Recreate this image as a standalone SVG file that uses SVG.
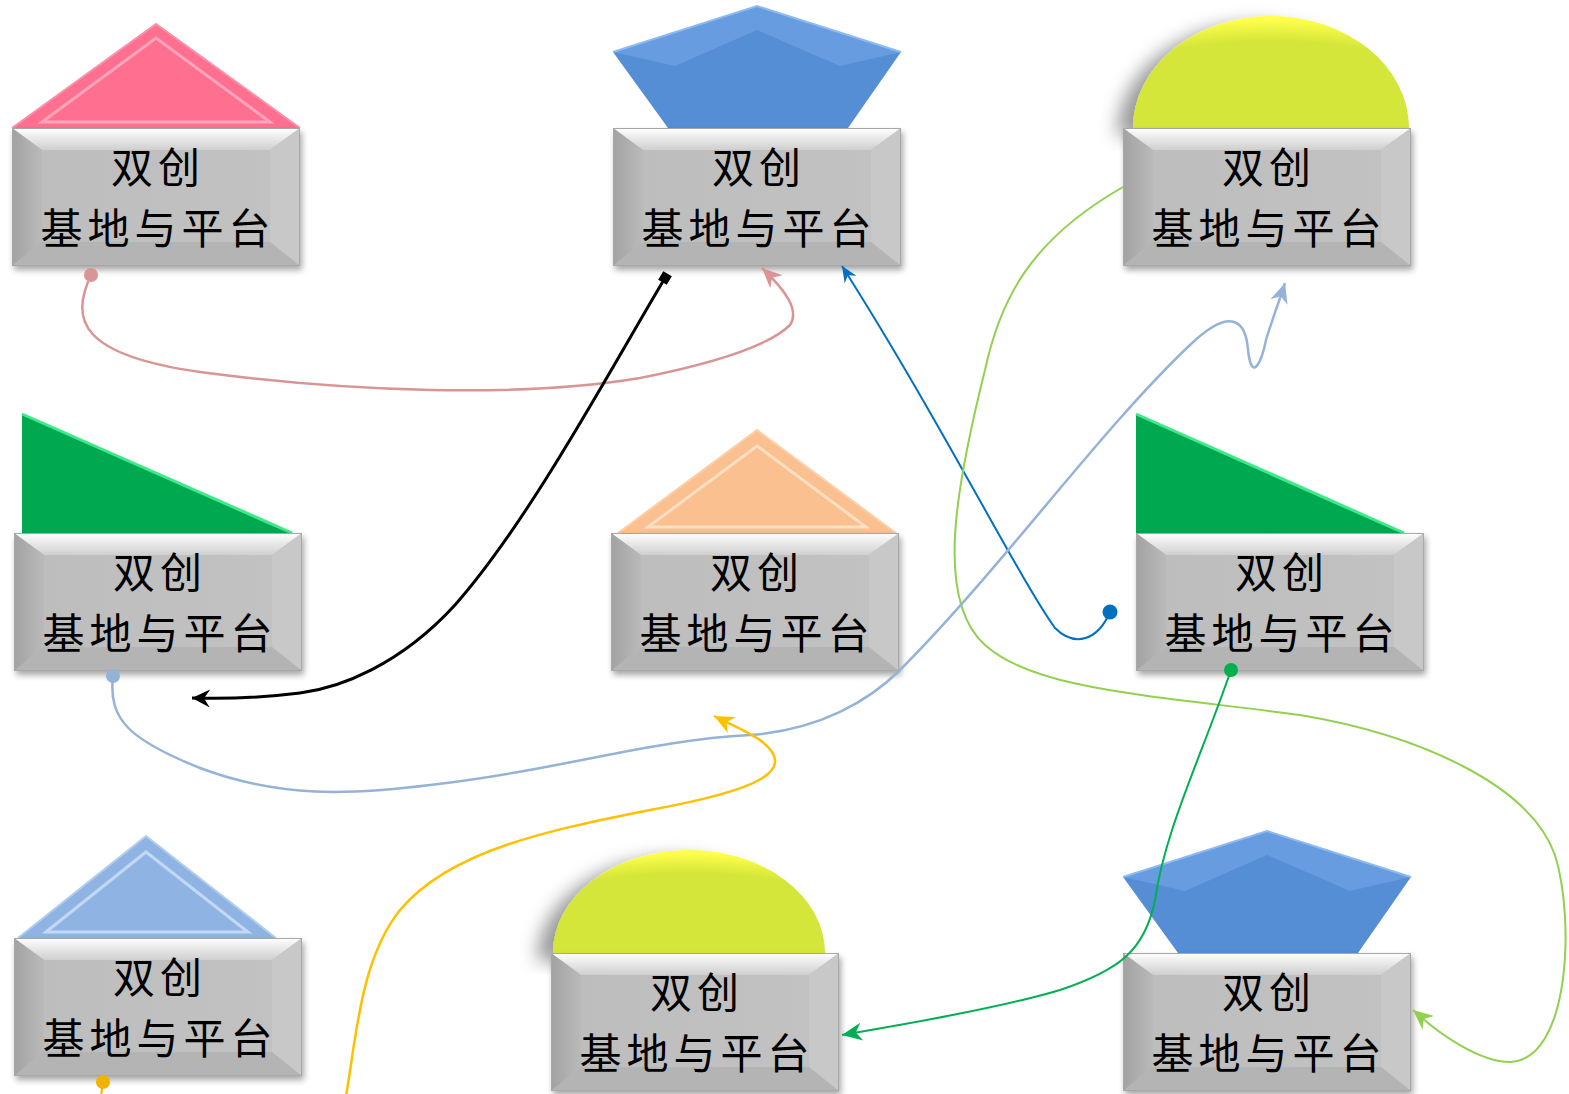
<svg xmlns="http://www.w3.org/2000/svg" xmlns:xlink="http://www.w3.org/1999/xlink" width="1569" height="1094" viewBox="0 0 1569 1094">
<style>
.lbl{font-family:"Noto Sans CJK SC","Noto Sans CJK TC",sans-serif;font-size:42px;letter-spacing:5px;fill:#000;text-anchor:middle}
.c{fill:none}
</style>
<defs>
<filter id="sh" x="-10%" y="-10%" width="125%" height="130%"><feDropShadow dx="2" dy="4" stdDeviation="3" flood-color="#000" flood-opacity="0.35"/></filter>
<filter id="shL" x="-30%" y="-20%" width="140%" height="140%"><feDropShadow dx="-16" dy="8" stdDeviation="9" flood-color="#000" flood-opacity="0.4"/></filter>
<linearGradient id="gTop" x1="0" y1="0" x2="0" y2="1"><stop offset="0" stop-color="#ffffff"/><stop offset="1" stop-color="#cfcfcf"/></linearGradient>
<linearGradient id="gLeft" x1="0" y1="0" x2="1" y2="0"><stop offset="0" stop-color="#a2a2a2"/><stop offset="1" stop-color="#bababa"/></linearGradient>
<linearGradient id="gBody" x1="0" y1="0" x2="1" y2="0"><stop offset="0" stop-color="#bdbdbd"/><stop offset="1" stop-color="#c2c2c2"/></linearGradient>
<radialGradient id="gYel" cx="0.5" cy="1" r="1" fx="0.5" fy="1"><stop offset="0.78" stop-color="#d5e63a"/><stop offset="0.97" stop-color="#ffff4a"/></radialGradient>
<g id="box">
<rect width="288" height="138" fill="url(#gBody)"/>
<polygon points="0,0 288,0 258,22 30,22" fill="url(#gTop)"/>
<polygon points="0,0 30,22 30,114 0,138" fill="url(#gLeft)"/>
<polygon points="288,0 258,22 258,114 288,138" fill="#c8c8c8"/>
<polygon points="0,138 30,114 258,114 288,138" fill="#b4b4b4"/>
<rect x="0.5" y="0.5" width="287" height="137" fill="none" stroke="#a8a8a8"/>
</g>
<marker id="aPink" markerUnits="userSpaceOnUse" viewBox="-22 -12 26 24" markerWidth="26" markerHeight="24" refX="0" refY="0" orient="auto"><path d="M0,0 L-20,-9 L-14,0 L-20,9Z" fill="#d99594"/></marker>
<marker id="aBlack" markerUnits="userSpaceOnUse" viewBox="-22 -12 26 24" markerWidth="26" markerHeight="24" refX="0" refY="0" orient="auto"><path d="M0,0 L-18,-9 L-12,0 L-18,9Z" fill="#000"/></marker>
<marker id="aBlue" markerUnits="userSpaceOnUse" viewBox="-22 -12 26 24" markerWidth="26" markerHeight="24" refX="0" refY="0" orient="auto"><path d="M0,0 L-16,-7 L-11,0 L-16,7Z" fill="#0070c0"/></marker>
<marker id="aLg" markerUnits="userSpaceOnUse" viewBox="-22 -12 26 24" markerWidth="26" markerHeight="24" refX="0" refY="0" orient="auto"><path d="M0,0 L-20,-9 L-14,0 L-20,9Z" fill="#92d050"/></marker>
<marker id="aLb" markerUnits="userSpaceOnUse" viewBox="-22 -12 26 24" markerWidth="26" markerHeight="24" refX="0" refY="0" orient="auto"><path d="M0,0 L-20,-9 L-14,0 L-20,9Z" fill="#95b3d7"/></marker>
<marker id="aOr" markerUnits="userSpaceOnUse" viewBox="-22 -12 26 24" markerWidth="26" markerHeight="24" refX="0" refY="0" orient="auto"><path d="M0,0 L-20,-9 L-14,0 L-20,9Z" fill="#ffc000"/></marker>
<marker id="aGr" markerUnits="userSpaceOnUse" viewBox="-22 -12 26 24" markerWidth="26" markerHeight="24" refX="0" refY="0" orient="auto"><path d="M0,0 L-20,-9 L-14,0 L-20,9Z" fill="#00b050"/></marker>
<marker id="dPink" markerUnits="userSpaceOnUse" viewBox="-8 -8 16 16" markerWidth="16" markerHeight="16" refX="0" refY="0"><circle r="7" fill="#d99594"/></marker>
<marker id="dBlue" markerUnits="userSpaceOnUse" viewBox="-8 -8 16 16" markerWidth="16" markerHeight="16" refX="0" refY="0"><circle r="7.5" fill="#0070c0"/></marker>
<marker id="dLb" markerUnits="userSpaceOnUse" viewBox="-8 -8 16 16" markerWidth="16" markerHeight="16" refX="0" refY="0"><circle r="7" fill="#95b3d7"/></marker>
<marker id="dGr" markerUnits="userSpaceOnUse" viewBox="-8 -8 16 16" markerWidth="16" markerHeight="16" refX="0" refY="0"><circle r="7" fill="#00b050"/></marker>
<marker id="dOr" markerUnits="userSpaceOnUse" viewBox="-8 -8 16 16" markerWidth="16" markerHeight="16" refX="0" refY="0"><circle r="7" fill="#f0b400"/></marker>
<marker id="sBlack" markerUnits="userSpaceOnUse" viewBox="-8 -8 16 16" markerWidth="16" markerHeight="16" refX="0" refY="0" orient="auto"><rect x="-5" y="-5" width="10" height="10" fill="#000"/></marker>
</defs>

<g id="node1">
<polygon points="12,128 156,24 300,128" fill="#ff6f8f"/>
<polygon points="42,122 156,38 270,122" fill="none" stroke="#ffb3c6" stroke-width="3" opacity="0.8"/>
<polyline points="12,128 156,24 300,128" fill="none" stroke="#ff8ea8" stroke-width="2"/>
<use href="#box" x="12" y="128" filter="url(#sh)"/>
<text class="lbl" x="158" y="183">双创</text>
<text class="lbl" x="158" y="244">基地与平台</text>
</g>

<g id="node2">
<polygon points="613,52 757,6 901,52 848,128 668,128" fill="#558ed5"/>
<polygon points="613,52 757,6 901,52 840,66 757,30 675,66" fill="#6fa3e6" opacity="0.7"/>
<polyline points="613,52 757,6 901,52" fill="none" stroke="#8dbaf2" stroke-width="2"/>
<use href="#box" x="613" y="128" filter="url(#sh)"/>
<text class="lbl" x="759" y="183">双创</text>
<text class="lbl" x="759" y="244">基地与平台</text>
</g>

<g id="node3">
<path d="M1133,128 A138,112 0 0 1 1409,128 Z" fill="url(#gYel)" filter="url(#shL)"/>
<use href="#box" x="1123" y="128" filter="url(#sh)"/>
<text class="lbl" x="1269" y="183">双创</text>
<text class="lbl" x="1269" y="244">基地与平台</text>
</g>

<g id="node4">
<polygon points="22,414 22,533 292,533" fill="#00a84f"/>
<polyline points="22,414 292,533" fill="none" stroke="#3fe88a" stroke-width="3"/>
<use href="#box" x="14" y="533" filter="url(#sh)"/>
<text class="lbl" x="160" y="588">双创</text>
<text class="lbl" x="160" y="649">基地与平台</text>
</g>

<g id="node5">
<polygon points="618,533 757,430 896,533" fill="#fac090"/>
<polygon points="648,527 757,446 866,527" fill="none" stroke="#fde2c6" stroke-width="3" opacity="0.9"/>
<polyline points="618,533 757,430 896,533" fill="none" stroke="#fdd0a8" stroke-width="2"/>
<use href="#box" x="611" y="533" filter="url(#sh)"/>
<text class="lbl" x="757" y="588">双创</text>
<text class="lbl" x="757" y="649">基地与平台</text>
</g>

<g id="node6">
<polygon points="1136,414 1136,533 1404,533" fill="#00a84f"/>
<polyline points="1136,414 1404,533" fill="none" stroke="#3fe88a" stroke-width="3"/>
<use href="#box" x="1136" y="533" filter="url(#sh)"/>
<text class="lbl" x="1282" y="588">双创</text>
<text class="lbl" x="1282" y="649">基地与平台</text>
</g>

<g id="node7">
<polygon points="18,938 146,836 276,938" fill="#8fb4e3"/>
<polygon points="46,932 146,852 248,932" fill="none" stroke="#c8ddf6" stroke-width="3" opacity="0.9"/>
<polyline points="18,938 146,836 276,938" fill="none" stroke="#b2cdf0" stroke-width="2"/>
<use href="#box" x="14" y="938" filter="url(#sh)"/>
<text class="lbl" x="160" y="993">双创</text>
<text class="lbl" x="160" y="1054">基地与平台</text>
</g>

<g id="node8">
<path d="M553,953 A136,103 0 0 1 825,953 Z" fill="url(#gYel)" filter="url(#shL)"/>
<use href="#box" x="551" y="953" filter="url(#sh)"/>
<text class="lbl" x="697" y="1008">双创</text>
<text class="lbl" x="697" y="1069">基地与平台</text>
</g>

<g id="node9">
<polygon points="1123,877 1267,831 1411,877 1358,953 1178,953" fill="#558ed5"/>
<polygon points="1123,877 1267,831 1411,877 1350,891 1267,855 1185,891" fill="#6fa3e6" opacity="0.7"/>
<polyline points="1123,877 1267,831 1411,877" fill="none" stroke="#8dbaf2" stroke-width="2"/>
<use href="#box" x="1123" y="953" filter="url(#sh)"/>
<text class="lbl" x="1269" y="1008">双创</text>
<text class="lbl" x="1269" y="1069">基地与平台</text>
</g>

<g id="connectors">
<path class="c" d="M91,275 C70,320 80,355 200,372 C350,392 520,398 640,378 C720,362 770,345 790,325 C800,310 785,290 762,268" stroke="#d99594" stroke-width="2.5" marker-start="url(#dPink)" marker-end="url(#aPink)"/>
<path class="c" d="M665,278 C610,370 530,520 455,605 C400,665 340,688 300,693 C260,698 225,699 192,698" stroke="#000" stroke-width="3" marker-start="url(#sBlack)" marker-end="url(#aBlack)"/>
<path class="c" d="M1110,612 C1098,640 1075,648 1055,628 C1020,580 940,420 842,266" stroke="#0070c0" stroke-width="2" marker-start="url(#dBlue)" marker-end="url(#aBlue)"/>
<path class="c" d="M1123,187 C1030,240 1000,300 985,370 C955,490 935,600 985,645 C1035,690 1150,695 1300,715 C1420,735 1530,785 1555,855 C1575,920 1570,1060 1510,1062 C1480,1062 1440,1035 1413,1010" stroke="#92d050" stroke-width="2"/>
<path class="c" d="M1450,1037 C1440,1030 1425,1020 1413,1010" stroke="none" marker-end="url(#aLg)"/>
<path class="c" d="M113,676 C108,720 130,740 200,768 C280,798 350,795 430,785 C560,770 650,740 750,735 C820,730 870,700 900,670 C1000,570 1100,430 1190,345 C1232,305 1246,322 1248,350 C1252,385 1262,360 1266,340 C1272,320 1278,305 1285,283" stroke="#95b3d7" stroke-width="2.5" marker-start="url(#dLb)" marker-end="url(#aLb)"/>
<path class="c" d="M346,1096 C356,1040 360,960 400,910 C450,850 550,830 650,810 C760,790 800,770 760,740 C745,730 730,724 714,716" stroke="#ffc000" stroke-width="2.5" marker-end="url(#aOr)"/>
<path class="c" d="M1231,670 C1200,760 1165,830 1155,900 C1145,950 1120,970 1060,990 C1000,1008 900,1025 842,1035" stroke="#00b050" stroke-width="2" marker-start="url(#dGr)" marker-end="url(#aGr)"/>
<path class="c" d="M103,1082 L101,1096" stroke="#f0b400" stroke-width="2" marker-start="url(#dOr)"/>
</g>
</svg>
